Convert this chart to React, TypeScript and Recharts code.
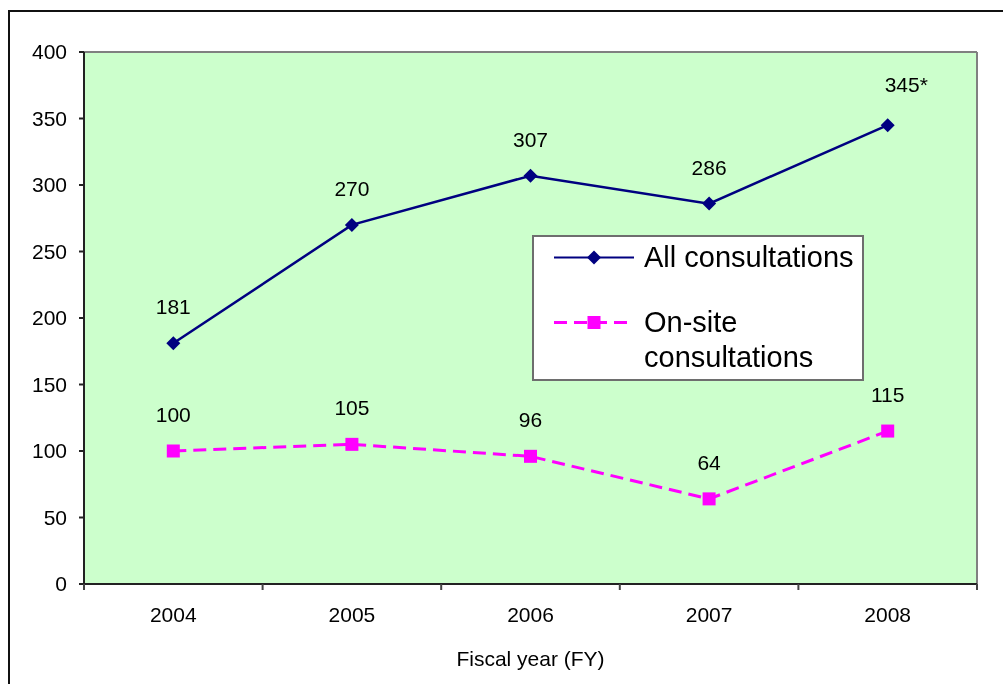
import { LineChart, Line, XAxis, YAxis, CartesianGrid, Legend, LabelList } from 'recharts';

const years = ['2004', '2005', '2006', '2007', '2008'];
const allConsultations = [181, 270, 307, 286, 345];
const onSiteConsultations = [100, 105, 96, 64, 115];
const allLabels = ['181', '270', '307', '286', '345*'];
const onSiteLabels = ['100', '105', '96', '64', '115'];
const yTicks = [0, 50, 100, 150, 200, 250, 300, 350, 400];

const data = years.map((year, i) => ({
  year,
  all: allConsultations[i],
  onSite: onSiteConsultations[i],
  allLabel: allLabels[i],
  onSiteLabel: onSiteLabels[i],
}));

const FONT = '"Liberation Sans", Arial, sans-serif';
const NAVY = '#000080';
const MAGENTA = '#FF00FF';
const TEXT_SIZE = 21;

function Diamond(props: any) {
  const { cx, cy, index } = props;
  if (cx == null || cy == null) return null;
  const r = 7;
  return <path key={`d${index}`} d={`M${cx},${cy - r}L${cx + r},${cy}L${cx},${cy + r}L${cx - r},${cy}Z`} fill={NAVY} />;
}

function Square(props: any) {
  const { cx, cy, index } = props;
  if (cx == null || cy == null) return null;
  return <rect key={`s${index}`} x={cx - 6.5} y={cy - 6.5} width={13} height={13} fill={MAGENTA} />;
}

function ValueLabel(props: any) {
  const x = props.x ?? props.viewBox?.x;
  const y = props.y ?? props.viewBox?.y;
  const value = String(props.value);
  const star = value.endsWith('*');
  return (
    <text x={star ? x - 3 : x} y={star ? y - 33 : y - 29} textAnchor={star ? 'start' : 'middle'} fontSize={TEXT_SIZE} fontFamily={FONT} fill="#000">
      {value}
    </text>
  );
}

// category label in the middle, tick marks on the category boundaries
function YearTick(props: any) {
  const { x, y, payload, index, visibleTicksCount } = props;
  const half = payload?.offset ?? 0;
  const axisY = y - 23;
  const last = index === visibleTicksCount - 1;
  return (
    <g>
      <line x1={x - half} y1={axisY} x2={x - half} y2={axisY + 6} stroke="#444" strokeWidth={2} />
      {last && <line x1={x + half} y1={axisY} x2={x + half} y2={axisY + 6} stroke="#444" strokeWidth={2} />}
      <text x={x} y={y} dy="0.71em" textAnchor="middle" fontSize={TEXT_SIZE} fontFamily={FONT} fill="#000">
        {payload.value}
      </text>
    </g>
  );
}

function LegendBox(props: any) {
  const { payload = [] } = props;
  return (
    <div style={{ width: 328, height: 139, border: '2px solid #6e6e6e', background: '#fff', boxSizing: 'content-box', fontFamily: FONT, fontSize: 29, lineHeight: '35px', color: '#000', paddingTop: 3 }}>
      {payload.map((entry: any, i: number) => (
        <div key={entry.value} style={{ display: 'flex', alignItems: 'flex-start', marginTop: i === 0 ? 0 : 30 }}>
          <svg width={80} height={35} style={{ marginLeft: 20, flex: 'none' }}>
            {entry.dataKey === 'all' ? (
              <>
                <line x1={0} y1={17.5} x2={80} y2={17.5} stroke={NAVY} strokeWidth={2} />
                <path d="M40,10.5L47,17.5L40,24.5L33,17.5Z" fill={NAVY} />
              </>
            ) : (
              <>
                <line x1={0} y1={17.5} x2={80} y2={17.5} stroke={MAGENTA} strokeWidth={3} strokeDasharray="13 7" />
                <rect x={33.5} y={11} width={13} height={13} fill={MAGENTA} />
              </>
            )}
          </svg>
          <span style={{ marginLeft: 10, width: 225 }}>{entry.value}</span>
        </div>
      ))}
    </div>
  );
}

export default function App() {
  return (
    <div style={{ position: 'relative', width: 987, height: 668 }}>
      <div style={{ position: 'fixed', left: 8, top: 10, width: 995, height: 680, borderTop: '2px solid #111', borderLeft: '2px solid #111', boxSizing: 'border-box', pointerEvents: 'none' }} />
      <LineChart width={987} height={668} data={data} margin={{ top: 44, right: 18, left: 0, bottom: 91 }}>
        <CartesianGrid
          fill="#CCFFCC"
          stroke="#808080"
          strokeWidth={2}
          horizontalCoordinatesGenerator={({ offset }: any) => [offset.top]}
          verticalCoordinatesGenerator={({ offset }: any) => [offset.left + offset.width]}
        />
        <XAxis
          dataKey="year"
          scale="band"
          height={1}
          tickLine={false}
          axisLine={{ stroke: '#222', strokeWidth: 2 }}
          tickSize={6}
          tickMargin={17}
          tick={<YearTick />}
          label={{ value: 'Fiscal year (FY)', position: 'bottom', offset: 66, fontSize: TEXT_SIZE, fill: '#000', fontFamily: FONT }}
        />
        <YAxis
          domain={[0, 400]}
          ticks={yTicks}
          width={76}
          tickSize={5}
          tickMargin={12}
          axisLine={{ stroke: '#222', strokeWidth: 2 }}
          tickLine={{ stroke: '#222', strokeWidth: 2 }}
          tick={{ fontSize: TEXT_SIZE, fill: '#000', fontFamily: FONT }}
        />
        <Legend layout="vertical" align="center" verticalAlign="middle" wrapperStyle={{ left: 524, top: 227, width: 332 }} content={<LegendBox />} />
        <Line
          dataKey="all"
          name="All consultations"
          stroke={NAVY}
          strokeWidth={2.5}
          dot={Diamond}
          activeDot={false}
          isAnimationActive={false}
        >
          <LabelList dataKey="allLabel" content={ValueLabel} />
        </Line>
        <Line
          dataKey="onSite"
          name="On-site consultations"
          stroke={MAGENTA}
          strokeWidth={3}
          strokeDasharray="13 7"
          dot={Square}
          activeDot={false}
          isAnimationActive={false}
        >
          <LabelList dataKey="onSiteLabel" content={ValueLabel} />
        </Line>
      </LineChart>
    </div>
  );
}
